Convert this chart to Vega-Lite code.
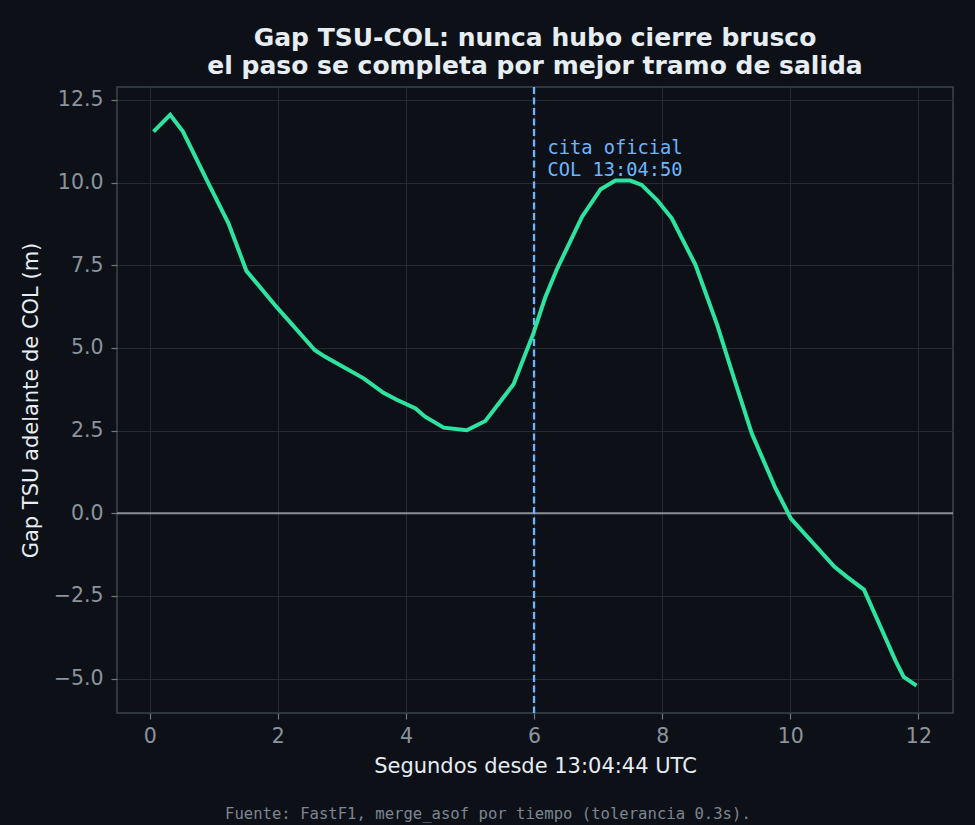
{
  "$schema": "https://vega.github.io/schema/vega-lite/v6.json",
  "autosize": {"type": "none"},
  "padding": {"left": 117, "top": 87, "right": 22, "bottom": 112},
  "width": 836,
  "height": 626,
  "background": "#0d1117",
  "title": {
    "text": ["Gap TSU-COL: nunca hubo cierre brusco", "el paso se completa por mejor tramo de salida"],
    "font": "DejaVu Sans",
    "fontSize": 25,
    "fontWeight": "bold",
    "color": "#e6edf3",
    "lineHeight": 28,
    "offset": 7,
    "anchor": "middle"
  },
  "layer": [
    {
      "data": {"values": [{"nota": "cero"}]},
      "mark": {"type": "rule", "color": "#8b9098", "strokeWidth": 1.8},
      "encoding": {"y": {"datum": 0, "type": "quantitative"}}
    },
    {
      "data": {"values": [{"nota": "cita"}]},
      "mark": {"type": "rule", "color": "#6cb6ff", "strokeWidth": 2.3, "strokeDash": [7, 3.5]},
      "encoding": {"x": {"datum": 6, "type": "quantitative"}}
    },
    {
      "data": {
        "values": [
          {"t": 0.06, "gap": 11.54},
          {"t": 0.32, "gap": 12.05},
          {"t": 0.52, "gap": 11.54},
          {"t": 0.89, "gap": 10.08},
          {"t": 1.23, "gap": 8.77},
          {"t": 1.51, "gap": 7.33},
          {"t": 1.98, "gap": 6.24},
          {"t": 2.58, "gap": 4.93},
          {"t": 2.74, "gap": 4.73},
          {"t": 3.34, "gap": 4.08},
          {"t": 3.65, "gap": 3.64},
          {"t": 3.85, "gap": 3.44},
          {"t": 4.15, "gap": 3.17},
          {"t": 4.3, "gap": 2.92},
          {"t": 4.59, "gap": 2.59},
          {"t": 4.95, "gap": 2.51},
          {"t": 5.24, "gap": 2.79},
          {"t": 5.68, "gap": 3.9},
          {"t": 5.99, "gap": 5.44},
          {"t": 6.17, "gap": 6.5},
          {"t": 6.35, "gap": 7.35},
          {"t": 6.75, "gap": 8.97},
          {"t": 7.04, "gap": 9.8},
          {"t": 7.27, "gap": 10.06},
          {"t": 7.5, "gap": 10.06},
          {"t": 7.68, "gap": 9.93},
          {"t": 7.92, "gap": 9.47},
          {"t": 8.15, "gap": 8.92},
          {"t": 8.52, "gap": 7.51},
          {"t": 8.86, "gap": 5.69},
          {"t": 9.14, "gap": 3.97},
          {"t": 9.4, "gap": 2.41},
          {"t": 9.77, "gap": 0.75},
          {"t": 10.01, "gap": -0.16},
          {"t": 10.69, "gap": -1.62},
          {"t": 10.89, "gap": -1.93},
          {"t": 11.15, "gap": -2.31},
          {"t": 11.41, "gap": -3.44},
          {"t": 11.64, "gap": -4.45},
          {"t": 11.77, "gap": -4.95},
          {"t": 11.97, "gap": -5.21}
        ]
      },
      "mark": {"type": "line", "color": "#2de3a0", "strokeWidth": 4, "strokeJoin": "miter"},
      "encoding": {
        "x": {
          "field": "t",
          "type": "quantitative",
          "scale": {"domain": [-0.51, 12.54], "nice": false, "zero": false},
          "axis": {
            "title": "Segundos desde 13:04:44 UTC",
            "values": [0, 2, 4, 6, 8, 10, 12],
            "format": "d",
            "titlePadding": 9
          }
        },
        "y": {
          "field": "gap",
          "type": "quantitative",
          "scale": {"domain": [-6.04, 12.89], "nice": false, "zero": false},
          "axis": {
            "title": "Gap TSU adelante de COL (m)",
            "values": [-5, -2.5, 0, 2.5, 5, 7.5, 10, 12.5],
            "format": ".1f",
            "titlePadding": 12
          }
        }
      }
    },
    {
      "data": {"values": [{"nota": "anotacion"}]},
      "mark": {
        "type": "text",
        "text": ["cita oficial", "COL 13:04:50"],
        "font": "DejaVu Sans Mono",
        "fontSize": 18.7,
        "lineHeight": 22,
        "color": "#6cb6ff",
        "align": "left",
        "baseline": "middle"
      },
      "encoding": {
        "x": {"datum": 6.21, "type": "quantitative"},
        "y": {"datum": 11.05, "type": "quantitative"}
      }
    },
    {
      "data": {"values": [{"nota": "fuente"}]},
      "mark": {
        "type": "text",
        "text": "Fuente: FastF1, merge_asof por tiempo (tolerancia 0.3s).",
        "font": "DejaVu Sans Mono",
        "fontSize": 15.6,
        "color": "#7d8590",
        "align": "center",
        "baseline": "middle"
      },
      "encoding": {
        "x": {"datum": 5.28, "type": "quantitative"},
        "y": {"datum": -9.1, "type": "quantitative"}
      }
    }
  ],
  "config": {
    "view": {"stroke": "#3d434c", "strokeWidth": 1.5, "fill": "#0d1117"},
    "axis": {
      "grid": true,
      "gridColor": "#262c35",
      "gridWidth": 1,
      "domain": false,
      "tickColor": "#6e7681",
      "tickSize": 6,
      "tickWidth": 1.2,
      "labelColor": "#8b949e",
      "labelFont": "DejaVu Sans",
      "labelFontSize": 20.5,
      "labelPadding": 7,
      "titleColor": "#e6edf3",
      "titleFont": "DejaVu Sans",
      "titleFontSize": 21,
      "titleFontWeight": "normal"
    },
    "axisY": {"labelPadding": 8}
  }
}
